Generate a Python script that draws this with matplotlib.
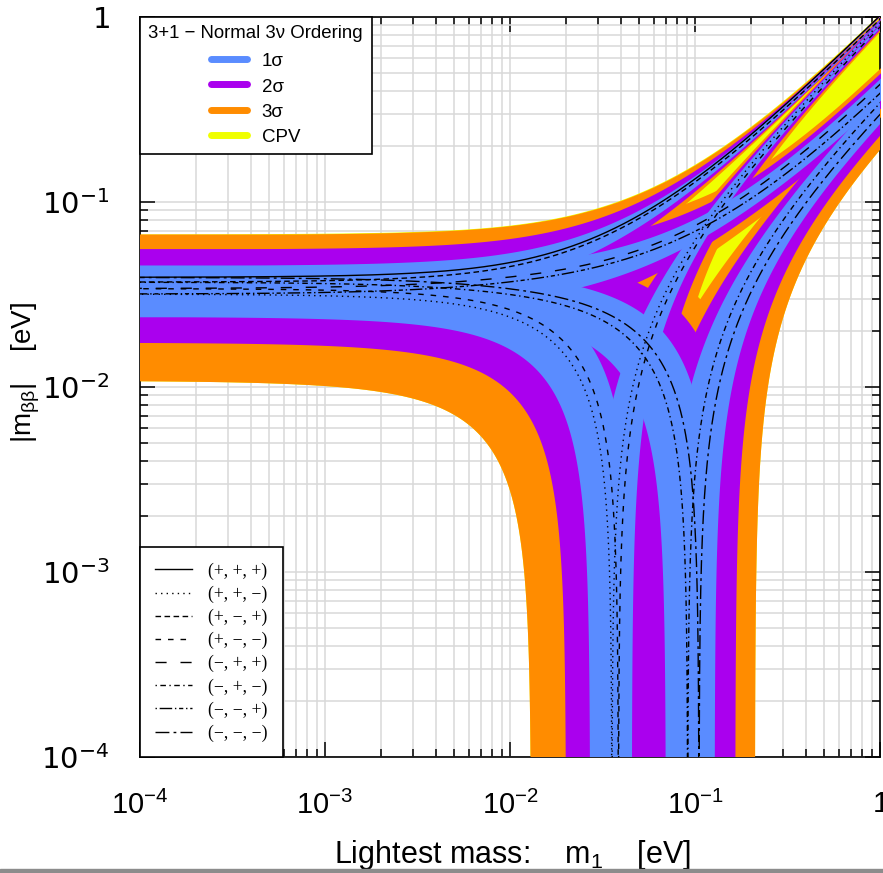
import numpy as np
import matplotlib
matplotlib.use("Agg")
import matplotlib.pyplot as plt
from matplotlib.lines import Line2D
from matplotlib.patches import Rectangle
from matplotlib.ticker import LogLocator, FixedLocator, FuncFormatter, NullFormatter

# mixing parameters: [best fit, 1s lo, 1s hi, 2s lo, 2s hi, 3s lo, 3s hi]
s12sq = [0.308, 0.291, 0.325, 0.275, 0.342, 0.259, 0.359]
s13sq = [0.0234, 0.0215, 0.0254, 0.0195, 0.0274, 0.0176, 0.0295]
s14sq = [0.0272, 0.0212, 0.0320, 0.0162, 0.0399, 0.0112, 0.0484]
dm21sq = [7.54e-5, 7.32e-5, 7.80e-5, 7.15e-5, 8.00e-5, 6.99e-5, 8.18e-5]  # eV^2
dm31sq = [2.47e-3, 2.41e-3, 2.53e-3, 2.34e-3, 2.59e-3, 2.27e-3, 2.65e-3]  # eV^2
dm41sq = [1.70, 1.65, 1.75, 1.60, 1.80, 1.55, 1.85]  # eV^2

# CP conserving signs of exp(i alpha2), exp(i alpha3), exp(i alpha4)
signs = [(1, 1, 1), (1, 1, -1), (1, -1, 1), (1, -1, -1),
         (-1, 1, 1), (-1, 1, -1), (-1, -1, 1), (-1, -1, -1)]
sign_labels = ['(+, +, +)', '(+, +, \u2212)', '(+, \u2212, +)', '(+, \u2212, \u2212)',
               '(\u2212, +, +)', '(\u2212, +, \u2212)', '(\u2212, \u2212, +)',
               '(\u2212, \u2212, \u2212)']
line_styles = ['-', (0, (1, 3)), (0, (4, 2.5)), (0, (4, 5)), (0, (8, 10)),
               (0, (1, 2.5, 4, 2.5)), (0, (1, 2, 9, 2, 1, 2, 3, 2)), (0, (10, 3, 2, 3))]

level_names = ['1\u03c3', '2\u03c3', '3\u03c3', 'CPV']
level_colors = ['#5a8cff', '#aa00ee', '#ff8c00', '#f0ff00']

xticks = [1e-4, 1e-3, 1e-2, 1e-1, 1]
yticks = [1e-4, 1e-3, 1e-2, 1e-1, 1]

plt.rcParams['mathtext.fontset'] = 'custom'
plt.rcParams['mathtext.rm'] = 'Liberation Sans'
plt.rcParams['mathtext.sf'] = 'DejaVu Sans'
plt.rcParams['mathtext.it'] = 'Liberation Sans:italic'
plt.rcParams['font.family'] = ['Liberation Sans', 'DejaVu Sans']

m1 = np.logspace(-4.05, 0.05, 6000)
FLOOR = 1e-7
params = [s12sq, s13sq, s14sq, dm21sq, dm31sq, dm41sq]


def terms(p):
    s12, s13, s14, d21, d31, d41 = p
    c14 = 1 - s14
    t1 = (1 - s12) * (1 - s13) * c14 * m1
    t2 = s12 * (1 - s13) * c14 * np.sqrt(m1 ** 2 + d21)
    t3 = s13 * c14 * np.sqrt(m1 ** 2 + d31)
    t4 = s14 * np.sqrt(m1 ** 2 + d41)
    return np.array([t1, t2, t3, t4])


def spread(func, lev):
    # range of func at a sigma level, parameter shifts added in quadrature
    best = [p[0] for p in params]
    base = func(terms(best))
    up = np.zeros_like(m1)
    dn = np.zeros_like(m1)
    for i, p in enumerate(params):
        shifts = []
        for v in (p[2 * lev - 1], p[2 * lev]):
            q = list(best)
            q[i] = v
            shifts.append(func(terms(q)) - base)
        up += np.maximum(np.maximum(shifts[0], shifts[1]), 0) ** 2
        dn += np.maximum(np.maximum(-shifts[0], -shifts[1]), 0) ** 2
    return base - np.sqrt(dn), base + np.sqrt(up)


fig = plt.figure(figsize=(8.83, 8.73), dpi=100)
ax = fig.add_axes([140 / 883, 1 - 757 / 873, 740 / 883, 740 / 873])
ax.set_xscale('log')
ax.set_yscale('log')
ax.set_xlim(1e-4, 1)
ax.set_ylim(1e-4, 1)

# region reachable only with CP violating phases (3 sigma)
low_lo, _ = spread(lambda t: 2 * t.max(axis=0) - t.sum(axis=0), 3)
_, tot_hi = spread(lambda t: t.sum(axis=0), 3)
ax.fill_between(m1, np.maximum(low_lo, FLOOR), tot_hi, color=level_colors[3], lw=0, zorder=2)

# CP conserving bands, 3 sigma first
for lev in (3, 2, 1):
    for e2, e3, e4 in signs:
        s_lo, s_hi = spread(lambda t: t[0] + e2 * t[1] + e3 * t[2] + e4 * t[3], lev)
        lo = np.where(s_lo > 0, s_lo, np.where(s_hi < 0, -s_hi, FLOOR))
        hi = np.maximum(np.abs(s_lo), np.abs(s_hi))
        ax.fill_between(m1, lo, hi, color=level_colors[lev - 1], lw=0, zorder=3)

# best fit CP conserving lines
tb = terms([p[0] for p in params])
for (e2, e3, e4), ls in zip(signs, line_styles):
    mbb = np.abs(tb[0] + e2 * tb[1] + e3 * tb[2] + e4 * tb[3])
    ax.plot(m1, np.maximum(mbb, FLOOR), color='black', lw=1.0, ls=ls, zorder=5)

ax.grid(True, which='both', color='#d9d9d9', lw=1.1, zorder=0)
ax.set_axisbelow(True)

ax.xaxis.set_major_locator(FixedLocator(xticks))
ax.yaxis.set_major_locator(FixedLocator(yticks))
ax.xaxis.set_minor_locator(LogLocator(base=10, subs=np.arange(2, 10)))
ax.yaxis.set_minor_locator(LogLocator(base=10, subs=np.arange(2, 10)))
ax.xaxis.set_minor_formatter(NullFormatter())
ax.yaxis.set_minor_formatter(NullFormatter())


def fmt(font):
    def f(v, pos):
        e = int(round(np.log10(v)))
        if e == 0:
            return r'$\%s{1}$' % font
        return r'$\%s{10^{%d}}$' % (font, e)
    return FuncFormatter(f)


ax.xaxis.set_major_formatter(fmt('mathrm'))
ax.yaxis.set_major_formatter(fmt('mathsf'))
ax.tick_params(which='both', direction='in', top=True, right=True, width=1.1)
ax.tick_params(which='major', length=11, labelsize=21)
ax.tick_params(which='minor', length=6)
ax.tick_params(axis='x', which='major', pad=24)
ax.tick_params(axis='y', which='major', pad=22)
for sp in ax.spines.values():
    sp.set_linewidth(1.2)

ax.set_xlabel(r'Lightest mass:    m$_\mathrm{1}$    [eV]', fontsize=22)
ax.xaxis.set_label_coords(0.503, -0.110)
ax.set_ylabel(r'|m$_{\mathrm{\beta\beta}}$|    [eV]', fontsize=20)
ax.yaxis.set_label_coords(-0.132, 0.52)

# legends
band_handles = [Line2D([], [], color=c, lw=5, solid_capstyle='round') for c in level_colors]
leg1 = ax.legend(band_handles, level_names, loc='upper left', bbox_to_anchor=(0, 1),
                 borderaxespad=0, title='3+1 \u2212 Normal 3\u03bd Ordering',
                 title_fontsize=13.4, fontsize=13.5, frameon=True, fancybox=False,
                 edgecolor='black', framealpha=1, handlelength=1.9, handletextpad=0.8,
                 labelspacing=0.37, borderpad=0.45, handleheight=0.9)
leg1.get_frame().set_linewidth(1.2)
leg1._legend_box.sep = 7
leg1.set_zorder(10)
ax.add_artist(leg1)

line_handles = [Line2D([], [], color='black', lw=1.0, ls=ls) for ls in line_styles]
leg2 = ax.legend(line_handles, sign_labels, loc='lower left', bbox_to_anchor=(0, 0),
                 borderaxespad=0, prop={'family': 'Liberation Serif', 'size': 12.8},
                 frameon=True, fancybox=False, edgecolor='black', framealpha=1,
                 handlelength=2.1, handletextpad=0.9, labelspacing=0.33, borderpad=0.85)
leg2.get_frame().set_linewidth(1.2)
leg2.set_zorder(10)

fig.patches.append(Rectangle((0, 0), 1, 4 / 873, transform=fig.transFigure,
                             color='#8c8c8c', zorder=0))

fig.savefig('out.png', dpi=100)
